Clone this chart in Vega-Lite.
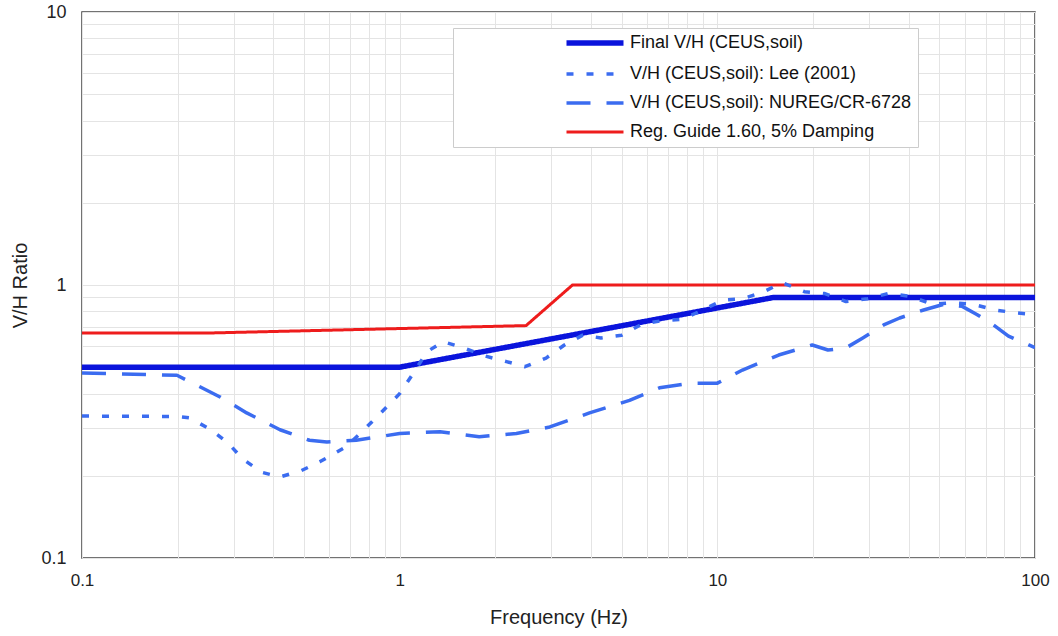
{
  "$schema": "https://vega.github.io/schema/vega-lite/v6.json",
  "width": 953,
  "height": 546,
  "autosize": {"type": "none"},
  "padding": {"left": 82, "top": 12, "right": 23, "bottom": 78},
  "background": "white",
  "config": {
    "font": "Liberation Sans",
    "view": {"stroke": "#444", "strokeWidth": 1.5},
    "axis": {"labelFont": "Liberation Sans", "titleFont": "Liberation Sans", "labelColor": "#222", "titleColor": "#222", "titleFontWeight": "normal", "labelFontSize": 17, "titleFontSize": 20, "ticks": false, "domain": false, "gridColor": "#e4e4e4", "gridWidth": 1},
    "legend": {"orient": "none", "legendX": 371, "legendY": 16, "symbolType": "M-5,0H5", "symbolSize": 130, "symbolOffset": 127, "labelFont": "Liberation Sans", "labelFontSize": 18, "labelColor": "#111", "labelOffset": 26, "labelLimit": 700, "rowPadding": 11, "padding": 6, "strokeColor": "#cccccc", "fillColor": "white"}
  },
  "data": {"values": [
    {"series": "Final V/H (CEUS,soil)", "f": 0.1, "v": 0.5},
    {"series": "Final V/H (CEUS,soil)", "f": 1.0, "v": 0.5},
    {"series": "Final V/H (CEUS,soil)", "f": 15, "v": 0.9},
    {"series": "Final V/H (CEUS,soil)", "f": 100, "v": 0.9},
    {"series": "Reg. Guide 1.60, 5% Damping", "f": 0.1, "v": 0.667},
    {"series": "Reg. Guide 1.60, 5% Damping", "f": 0.25, "v": 0.667},
    {"series": "Reg. Guide 1.60, 5% Damping", "f": 2.5, "v": 0.71},
    {"series": "Reg. Guide 1.60, 5% Damping", "f": 3.5, "v": 1.0},
    {"series": "Reg. Guide 1.60, 5% Damping", "f": 100, "v": 1.0},
    {"series": "V/H (CEUS,soil): Lee (2001)", "f": 0.1, "v": 0.331},
    {"series": "V/H (CEUS,soil): Lee (2001)", "f": 0.2, "v": 0.33},
    {"series": "V/H (CEUS,soil): Lee (2001)", "f": 0.218, "v": 0.326},
    {"series": "V/H (CEUS,soil): Lee (2001)", "f": 0.256, "v": 0.294},
    {"series": "V/H (CEUS,soil): Lee (2001)", "f": 0.288, "v": 0.264},
    {"series": "V/H (CEUS,soil): Lee (2001)", "f": 0.32, "v": 0.231},
    {"series": "V/H (CEUS,soil): Lee (2001)", "f": 0.368, "v": 0.206},
    {"series": "V/H (CEUS,soil): Lee (2001)", "f": 0.42, "v": 0.198},
    {"series": "V/H (CEUS,soil): Lee (2001)", "f": 0.49, "v": 0.209},
    {"series": "V/H (CEUS,soil): Lee (2001)", "f": 0.56, "v": 0.225},
    {"series": "V/H (CEUS,soil): Lee (2001)", "f": 0.68, "v": 0.256},
    {"series": "V/H (CEUS,soil): Lee (2001)", "f": 0.82, "v": 0.316},
    {"series": "V/H (CEUS,soil): Lee (2001)", "f": 1.0, "v": 0.40},
    {"series": "V/H (CEUS,soil): Lee (2001)", "f": 1.11, "v": 0.48},
    {"series": "V/H (CEUS,soil): Lee (2001)", "f": 1.22, "v": 0.57},
    {"series": "V/H (CEUS,soil): Lee (2001)", "f": 1.37, "v": 0.62},
    {"series": "V/H (CEUS,soil): Lee (2001)", "f": 1.6, "v": 0.587},
    {"series": "V/H (CEUS,soil): Lee (2001)", "f": 1.85, "v": 0.55},
    {"series": "V/H (CEUS,soil): Lee (2001)", "f": 2.17, "v": 0.524},
    {"series": "V/H (CEUS,soil): Lee (2001)", "f": 2.48, "v": 0.502},
    {"series": "V/H (CEUS,soil): Lee (2001)", "f": 2.89, "v": 0.54},
    {"series": "V/H (CEUS,soil): Lee (2001)", "f": 3.3, "v": 0.603},
    {"series": "V/H (CEUS,soil): Lee (2001)", "f": 3.77, "v": 0.655},
    {"series": "V/H (CEUS,soil): Lee (2001)", "f": 4.3, "v": 0.64},
    {"series": "V/H (CEUS,soil): Lee (2001)", "f": 5.0, "v": 0.655},
    {"series": "V/H (CEUS,soil): Lee (2001)", "f": 5.8, "v": 0.72},
    {"series": "V/H (CEUS,soil): Lee (2001)", "f": 6.7, "v": 0.74},
    {"series": "V/H (CEUS,soil): Lee (2001)", "f": 7.8, "v": 0.75},
    {"series": "V/H (CEUS,soil): Lee (2001)", "f": 9.2, "v": 0.82},
    {"series": "V/H (CEUS,soil): Lee (2001)", "f": 10.4, "v": 0.88},
    {"series": "V/H (CEUS,soil): Lee (2001)", "f": 12, "v": 0.89},
    {"series": "V/H (CEUS,soil): Lee (2001)", "f": 14, "v": 0.945},
    {"series": "V/H (CEUS,soil): Lee (2001)", "f": 16, "v": 1.02},
    {"series": "V/H (CEUS,soil): Lee (2001)", "f": 18.8, "v": 0.945},
    {"series": "V/H (CEUS,soil): Lee (2001)", "f": 21.8, "v": 0.93},
    {"series": "V/H (CEUS,soil): Lee (2001)", "f": 25.4, "v": 0.87},
    {"series": "V/H (CEUS,soil): Lee (2001)", "f": 29.7, "v": 0.89},
    {"series": "V/H (CEUS,soil): Lee (2001)", "f": 34.4, "v": 0.93},
    {"series": "V/H (CEUS,soil): Lee (2001)", "f": 40.3, "v": 0.91},
    {"series": "V/H (CEUS,soil): Lee (2001)", "f": 47.7, "v": 0.85},
    {"series": "V/H (CEUS,soil): Lee (2001)", "f": 55, "v": 0.86},
    {"series": "V/H (CEUS,soil): Lee (2001)", "f": 63.8, "v": 0.85},
    {"series": "V/H (CEUS,soil): Lee (2001)", "f": 74.8, "v": 0.81},
    {"series": "V/H (CEUS,soil): Lee (2001)", "f": 87.6, "v": 0.79},
    {"series": "V/H (CEUS,soil): Lee (2001)", "f": 100, "v": 0.78},
    {"series": "V/H (CEUS,soil): NUREG/CR-6728", "f": 0.1, "v": 0.476},
    {"series": "V/H (CEUS,soil): NUREG/CR-6728", "f": 0.199, "v": 0.467},
    {"series": "V/H (CEUS,soil): NUREG/CR-6728", "f": 0.235, "v": 0.424},
    {"series": "V/H (CEUS,soil): NUREG/CR-6728", "f": 0.272, "v": 0.389},
    {"series": "V/H (CEUS,soil): NUREG/CR-6728", "f": 0.33, "v": 0.34},
    {"series": "V/H (CEUS,soil): NUREG/CR-6728", "f": 0.42, "v": 0.295},
    {"series": "V/H (CEUS,soil): NUREG/CR-6728", "f": 0.52, "v": 0.27},
    {"series": "V/H (CEUS,soil): NUREG/CR-6728", "f": 0.59, "v": 0.266},
    {"series": "V/H (CEUS,soil): NUREG/CR-6728", "f": 0.73, "v": 0.27},
    {"series": "V/H (CEUS,soil): NUREG/CR-6728", "f": 0.86, "v": 0.278},
    {"series": "V/H (CEUS,soil): NUREG/CR-6728", "f": 1.0, "v": 0.286},
    {"series": "V/H (CEUS,soil): NUREG/CR-6728", "f": 1.34, "v": 0.29},
    {"series": "V/H (CEUS,soil): NUREG/CR-6728", "f": 1.78, "v": 0.278},
    {"series": "V/H (CEUS,soil): NUREG/CR-6728", "f": 2.33, "v": 0.286},
    {"series": "V/H (CEUS,soil): NUREG/CR-6728", "f": 2.97, "v": 0.302},
    {"series": "V/H (CEUS,soil): NUREG/CR-6728", "f": 3.96, "v": 0.34},
    {"series": "V/H (CEUS,soil): NUREG/CR-6728", "f": 5.29, "v": 0.378},
    {"series": "V/H (CEUS,soil): NUREG/CR-6728", "f": 6.58, "v": 0.42},
    {"series": "V/H (CEUS,soil): NUREG/CR-6728", "f": 8.2, "v": 0.437},
    {"series": "V/H (CEUS,soil): NUREG/CR-6728", "f": 10, "v": 0.437},
    {"series": "V/H (CEUS,soil): NUREG/CR-6728", "f": 12, "v": 0.488},
    {"series": "V/H (CEUS,soil): NUREG/CR-6728", "f": 15.6, "v": 0.554},
    {"series": "V/H (CEUS,soil): NUREG/CR-6728", "f": 19.9, "v": 0.603},
    {"series": "V/H (CEUS,soil): NUREG/CR-6728", "f": 22.3, "v": 0.578},
    {"series": "V/H (CEUS,soil): NUREG/CR-6728", "f": 25.4, "v": 0.588},
    {"series": "V/H (CEUS,soil): NUREG/CR-6728", "f": 28.7, "v": 0.64},
    {"series": "V/H (CEUS,soil): NUREG/CR-6728", "f": 33.4, "v": 0.714},
    {"series": "V/H (CEUS,soil): NUREG/CR-6728", "f": 37.5, "v": 0.757},
    {"series": "V/H (CEUS,soil): NUREG/CR-6728", "f": 44.6, "v": 0.81},
    {"series": "V/H (CEUS,soil): NUREG/CR-6728", "f": 51.7, "v": 0.85},
    {"series": "V/H (CEUS,soil): NUREG/CR-6728", "f": 59, "v": 0.835},
    {"series": "V/H (CEUS,soil): NUREG/CR-6728", "f": 65.6, "v": 0.78},
    {"series": "V/H (CEUS,soil): NUREG/CR-6728", "f": 73.3, "v": 0.72},
    {"series": "V/H (CEUS,soil): NUREG/CR-6728", "f": 82.5, "v": 0.65},
    {"series": "V/H (CEUS,soil): NUREG/CR-6728", "f": 95.6, "v": 0.603},
    {"series": "V/H (CEUS,soil): NUREG/CR-6728", "f": 100, "v": 0.59}
  ]},
  "mark": {"type": "line", "clip": true, "strokeCap": "butt", "strokeJoin": "round"},
  "encoding": {
    "x": {"field": "f", "type": "quantitative",
      "scale": {"type": "log", "domain": [0.1, 100], "nice": false},
      "axis": {"title": "Frequency (Hz)", "values": [0.1,0.2,0.3,0.4,0.5,0.6,0.7,0.8,0.9,1,2,3,4,5,6,7,8,9,10,20,30,40,50,60,70,80,90,100],
        "labelExpr": "indexof(['0.1','1','10','100'], format(datum.value, '')) >= 0 ? format(datum.value, '') : ''",
        "labelPadding": 14, "titlePadding": 19, "labelOverlap": false, "labelFlush": false}},
    "y": {"field": "v", "type": "quantitative",
      "scale": {"type": "log", "domain": [0.1, 10], "nice": false},
      "axis": {"title": "V/H Ratio", "values": [0.1,0.2,0.3,0.4,0.5,0.6,0.7,0.8,0.9,1,2,3,4,5,6,7,8,9,10],
        "labelExpr": "indexof(['0.1','1','10'], format(datum.value, '')) >= 0 ? format(datum.value, '') : ''",
        "labelPadding": 16, "titlePadding": 10, "labelOverlap": false, "labelFlush": false, "labelFontSize": 18}},
    "color": {"field": "series", "type": "nominal",
      "scale": {"domain": ["Final V/H (CEUS,soil)", "V/H (CEUS,soil): Lee (2001)", "V/H (CEUS,soil): NUREG/CR-6728", "Reg. Guide 1.60, 5% Damping"],
                "range": ["#0a14dc", "#3b6cf0", "#3b6cf0", "#ee1c1c"]},
      "legend": {"title": null}},
    "strokeDash": {"field": "series", "type": "nominal",
      "scale": {"domain": ["Final V/H (CEUS,soil)", "V/H (CEUS,soil): Lee (2001)", "V/H (CEUS,soil): NUREG/CR-6728", "Reg. Guide 1.60, 5% Damping"],
                "range": [[1, 0], [7, 13], [24, 16], [1, 0]]},
      "legend": {"title": null}},
    "strokeWidth": {"field": "series", "type": "nominal",
      "scale": {"type": "ordinal", "domain": ["Final V/H (CEUS,soil)", "V/H (CEUS,soil): Lee (2001)", "V/H (CEUS,soil): NUREG/CR-6728", "Reg. Guide 1.60, 5% Damping"],
                "range": [5.5, 3.5, 3.5, 3]},
      "legend": {"title": null}}
  }
}
